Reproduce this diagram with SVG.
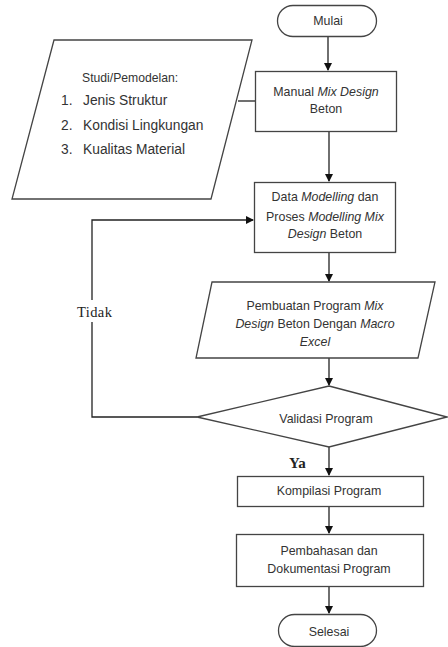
<svg xmlns="http://www.w3.org/2000/svg" width="448" height="647" viewBox="0 0 448 647">
<defs>
<marker id="ah" markerWidth="8" markerHeight="8" refX="7" refY="4" orient="auto" markerUnits="userSpaceOnUse">
<path d="M0,0 L8,4 L0,8 Z" fill="#111"/>
</marker>
<style>
.s{fill:#fff;stroke:#444;stroke-width:1.3}
.t{font-family:"Liberation Sans",Arial,sans-serif;font-size:12.4px;fill:#333;text-anchor:middle}
.tl{font-family:"Liberation Sans",Arial,sans-serif;font-size:13.8px;fill:#333}
.c{fill:none;stroke:#222;stroke-width:1.3}
.lb{font-family:"Liberation Serif","Times New Roman",serif;font-size:14.5px;fill:#222}
</style>
</defs>
<rect width="448" height="647" fill="#fff"/>
<g id="connectors">
<line class="c" x1="328" y1="37" x2="328" y2="70" marker-end="url(#ah)"/>
<line class="c" x1="238" y1="101" x2="255" y2="101"/>
<line class="c" x1="329" y1="132" x2="329" y2="181" marker-end="url(#ah)"/>
<line class="c" x1="329" y1="253" x2="329" y2="281" marker-end="url(#ah)"/>
<line class="c" x1="329" y1="358" x2="329" y2="385" marker-end="url(#ah)"/>
<polyline class="c" points="197,417 92,417 92,220 253,220" marker-end="url(#ah)"/>
<line class="c" x1="329" y1="447" x2="329" y2="475" marker-end="url(#ah)"/>
<line class="c" x1="329" y1="506" x2="329" y2="533" marker-end="url(#ah)"/>
<line class="c" x1="329" y1="586" x2="329" y2="613" marker-end="url(#ah)"/>
<rect x="74" y="300" width="42" height="22" fill="#fff"/>
<text class="lb" x="77" y="317" letter-spacing="0.4">Tidak</text>
<text class="lb" x="289" y="468" font-weight="bold" style="font-size:15px">Ya</text>
</g>
<g id="mulai">
<rect class="s" x="277.5" y="5.5" width="99" height="31" rx="15.5"/>
<text class="t" x="328" y="25">Mulai</text>
</g>
<g id="studi">
<polygon class="s" points="54,40 252,40 211,199 12,199"/>
<text class="tl" x="82" y="82" style="font-size:12.2px">Studi/Pemodelan:</text>
<text class="tl" x="61" y="105">1.</text><text class="tl" x="83" y="105">Jenis Struktur</text>
<text class="tl" x="61" y="130">2.</text><text class="tl" x="83" y="130">Kondisi Lingkungan</text>
<text class="tl" x="61" y="154">3.</text><text class="tl" x="83" y="154">Kualitas Material</text>
</g>
<g id="manual">
<rect class="s" x="255.5" y="71.5" width="141" height="60"/>
<text class="t" x="326" y="96">Manual <tspan font-style="italic">Mix Design</tspan></text>
<text class="t" x="326" y="113">Beton</text>
</g>
<g id="data">
<rect class="s" x="254.5" y="182.5" width="141" height="70"/>
<text class="t" x="325" y="201">Data <tspan font-style="italic">Modelling</tspan> dan</text>
<text class="t" x="325" y="221">Proses <tspan font-style="italic">Modelling Mix</tspan></text>
<text class="t" x="325" y="238"><tspan font-style="italic">Design</tspan> Beton</text>
</g>
<g id="pembuatan">
<polygon class="s" points="212,282 435,282 418,358 196,358"/>
<text class="t" x="315" y="310">Pembuatan Program <tspan font-style="italic">Mix</tspan></text>
<text class="t" x="315" y="328"><tspan font-style="italic">Design</tspan> Beton Dengan <tspan font-style="italic">Macro</tspan></text>
<text class="t" x="315" y="346" font-style="italic">Excel</text>
</g>
<g id="validasi">
<polygon class="s" points="329,386 447,417 329,447 197,417"/>
<text class="t" x="326" y="423">Validasi Program</text>
</g>
<g id="kompilasi">
<rect class="s" x="237.5" y="476.5" width="186" height="30"/>
<text class="t" x="329" y="495">Kompilasi Program</text>
</g>
<g id="pembahasan">
<rect class="s" x="236.5" y="534.5" width="187" height="52"/>
<text class="t" x="329" y="555">Pembahasan dan</text>
<text class="t" x="329" y="573">Dokumentasi Program</text>
</g>
<g id="selesai">
<rect class="s" x="278.5" y="614.5" width="98" height="32" rx="16"/>
<text class="t" x="329" y="636">Selesai</text>
</g>
</svg>
